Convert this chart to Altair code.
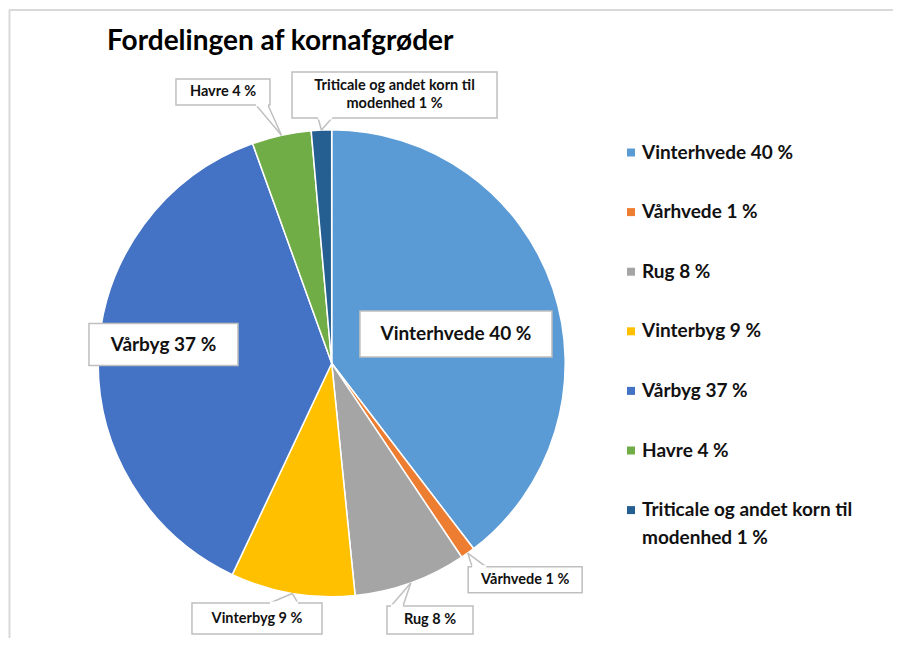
import textwrap
import numpy as np
import pandas as pd
import altair as alt

# ---------------- data ----------------
categories = ["Vinterhvede", "Vårhvede", "Rug", "Vinterbyg", "Vårbyg", "Havre",
              "Triticale og andet korn til modenhed"]
shares = [39.6, 1.0, 7.8, 8.6, 37.5, 4.1, 1.4]          # slice sizes
pct_labels = [40, 1, 8, 9, 37, 4, 1]                     # percentages printed in the labels
colors = ["#5B9BD5", "#ED7D31", "#A5A5A5", "#FFC000", "#4472C4", "#70AD47", "#255E91"]
title_text = "Fordelingen af kornafgrøder"

# ---------------- layout (page pixels) ----------------
PAGE_W, PAGE_H, MARGIN = 901, 646, 8
W, H = PAGE_W - 2 * MARGIN, PAGE_H - 2 * MARGIN
CX, CY, R = 331.7, 363.3, 233.5          # pie centre / radius
FONT = "Lato"
TXT = "#111111"
BOX_STROKE = "#BFBFBF"
FS_BIG, FS_SMALL, FS_LEG, FS_TITLE = 19, 14.5, 19, 28

# label box: offset of box centre from slice's rim midpoint, box size, font size,
# and callout wedge base (x offsets from box centre, which edge)
label_layout = [
    dict(dx=-96.9, dy=45.7, w=192, h=46, fs=FS_BIG, wedge=None),
    dict(dx=57.4, dy=26.8, w=114, h=26, fs=FS_SMALL, wedge=(-53, -39, "top")),
    dict(dx=19.2, dy=37.0, w=86, h=28, fs=FS_SMALL, wedge=(-39, -27, "top")),
    dict(dx=-35.3, dy=25.1, w=130, h=31, fs=FS_SMALL, wedge=(13, 41, "top")),
    dict(dx=65.0, dy=-7.8, w=149, h=42, fs=FS_BIG, wedge=None),
    dict(dx=-58.5, dy=-43.3, w=94, h=26, fs=FS_SMALL, wedge=(33, 45, "bottom")),
    dict(dx=73.1, dy=-35.0, w=205, h=46, fs=FS_SMALL, wedge=(-76.5, -62.5, "bottom")),
]
LINE_H_SMALL = 18
LEG_SQ_X, LEG_TX, LEG_Y0, LEG_DY, LEG_LINE_H = 631, 642, 152.5, 59.6, 28

# ---------------- derived tables ----------------
vals = np.array(shares, dtype=float)
frac = vals / vals.sum()
cum_end = np.cumsum(frac)
mid = cum_end - frac / 2
ang = mid * 2 * np.pi
rim_x = CX + R * np.sin(ang)
rim_y = CY - R * np.cos(ang)

texts = [f"{c} {p} %" for c, p in zip(categories, pct_labels)]
wrapped = [textwrap.wrap(t, 27) for t in texts]

pie_df = pd.DataFrame({"cat": categories, "value": shares, "idx": range(len(categories))})

box_rows, txt_rows, gap_rows, wedge_rows = [], [], [], []
for i, lay in enumerate(label_layout):
    bx, by = rim_x[i] + lay["dx"], rim_y[i] + lay["dy"]
    box_rows.append(dict(x=bx - lay["w"] / 2, x2=bx + lay["w"] / 2,
                         y=by - lay["h"] / 2, y2=by + lay["h"] / 2))
    lines = wrapped[i]
    n = len(lines)
    for k, ln in enumerate(lines):
        txt_rows.append(dict(x=bx, y=by + (k - (n - 1) / 2) * LINE_H_SMALL,
                             t=ln, fs=lay["fs"]))
    if lay["wedge"] is not None:
        a, b, edge = lay["wedge"]
        ey = by - lay["h"] / 2 if edge == "top" else by + lay["h"] / 2
        gap_rows.append(dict(x=bx + a, x2=bx + b, y=ey))
        for off in (a, b):
            wedge_rows.append(dict(x=bx + off, y=ey, x2=rim_x[i], y2=rim_y[i]))

leg_sq, leg_txt = [], []
for i, c in enumerate(categories):
    yy = LEG_Y0 + i * LEG_DY
    leg_sq.append(dict(x=LEG_SQ_X, y=yy, cat=c))
    for k, ln in enumerate(wrapped[i]):
        leg_txt.append(dict(x=LEG_TX, y=yy + k * LEG_LINE_H, t=ln))

border_df = pd.DataFrame([
    dict(x=9, x2=PAGE_W - MARGIN, y=10, y2=10),
    dict(x=9.5, x2=9.5, y=10, y2=PAGE_H - MARGIN),
])
title_df = pd.DataFrame([dict(x=107, y=50, t=title_text)])

# ---------------- scales ----------------
xs = alt.Scale(domain=[MARGIN, MARGIN + W], nice=False, zero=False)
ys = alt.Scale(domain=[MARGIN, MARGIN + H], nice=False, zero=False, reverse=True)
cs = alt.Scale(domain=categories, range=colors)


def X(f):
    return alt.X(f, type="quantitative", scale=xs, axis=None)


def Y(f):
    return alt.Y(f, type="quantitative", scale=ys, axis=None)


pie = alt.Chart(pie_df).mark_arc(outerRadius=R, stroke="white", strokeWidth=1.5).encode(
    theta=alt.Theta("value:Q", stack=True),
    order=alt.Order("idx:Q"),
    color=alt.Color("cat:N", scale=cs, legend=None),
    x=alt.value(CX - MARGIN),
    y=alt.value(CY - MARGIN),
)

boxes = alt.Chart(pd.DataFrame(box_rows)).mark_rect(
    fill="white", stroke=BOX_STROKE, strokeWidth=1.5
).encode(x=X("x"), x2="x2", y=Y("y"), y2="y2")

gaps = alt.Chart(pd.DataFrame(gap_rows)).mark_rule(color="white", strokeWidth=3).encode(
    x=X("x"), x2="x2", y=Y("y"))

wedges = alt.Chart(pd.DataFrame(wedge_rows)).mark_rule(color=BOX_STROKE, strokeWidth=1.5).encode(
    x=X("x"), x2="x2", y=Y("y"), y2="y2")

labels = alt.Chart(pd.DataFrame(txt_rows)).mark_text(
    font=FONT, fontWeight="bold", color=TXT, align="center", baseline="middle"
).encode(x=X("x"), y=Y("y"), text="t:N", size=alt.Size("fs:Q", scale=None))

leg_squares = alt.Chart(pd.DataFrame(leg_sq)).mark_square(size=64, opacity=1).encode(
    x=X("x"), y=Y("y"), color=alt.Color("cat:N", scale=cs, legend=None))

leg_labels = alt.Chart(pd.DataFrame(leg_txt)).mark_text(
    font=FONT, fontWeight="bold", fontSize=FS_LEG, color=TXT, align="left", baseline="middle"
).encode(x=X("x"), y=Y("y"), text="t:N")

title = alt.Chart(title_df).mark_text(
    font=FONT, fontWeight="bold", fontSize=FS_TITLE, color="#000000", align="left",
    baseline="alphabetic"
).encode(x=X("x"), y=Y("y"), text="t:N")

border = alt.Chart(border_df).mark_rule(color="#D9D9D9", strokeWidth=2).encode(
    x=X("x"), x2="x2", y=Y("y"), y2="y2")

chart = alt.layer(
    border, pie, wedges, boxes, gaps, labels, leg_squares, leg_labels, title
).properties(
    width=W, height=H, padding=0, autosize=alt.AutoSizeParams(type="none"),
    background="white",
).configure_view(stroke=None)

chart.save("out.html", embed_options={"renderer": "svg", "actions": False})
